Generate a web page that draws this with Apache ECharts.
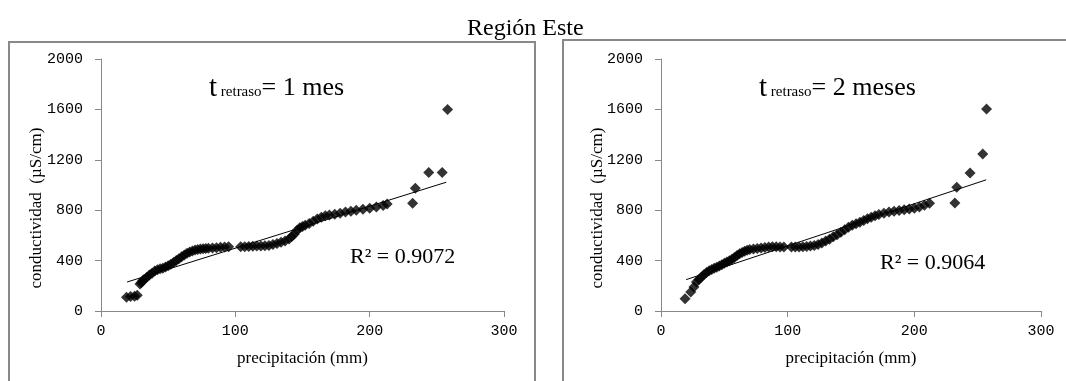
<!DOCTYPE html>
<html><head><meta charset="utf-8">
<script src="https://cdn.jsdelivr.net/npm/echarts@6/dist/echarts.min.js"></script>
<style>html,body{margin:0;padding:0;background:#fff}#c{width:1066px;height:381px}</style>
</head><body><div id="c"></div>
<script>
const chartTitle = 'Región Este';
const xAxisTitle = 'precipitación (mm)';
const yAxisTitle = 'conductividad  (µS/cm)';
const xTicks = {min: 0, max: 300, interval: 100};
const yTicks = {min: 0, max: 2000, interval: 400};

const leftPoints = [
 [19,110],[22,115],[25,118],[27,125],
 [29,215],[30,225],[31,240],[32,250],[34,265],[36,285],[38,300],[40,318],[42,328],[44,335],[46,340],[48,350],
 [50,360],[52,372],[54,385],[56,400],[58,415],[60,430],[62,445],[64,458],[66,468],[68,476],[70,484],[72,489],
 [74,492],[76,495],[78,497],[80,498],[83,500],[86,502],[89,505],[92,507],[95,510],
 [104,510],[107,510],[110,512],[113,513],[116,515],[119,515],[122,518],[125,520],[128,528],[131,535],[134,545],
 [137,555],[140,572],[142,592],[144,612],[146,640],[148,660],[150,670],[152,680],[155,695],[158,712],[161,730],
 [164,745],[167,755],[170,762],[174,768],[178,775],[182,785],[186,792],[190,800],[195,808],[200,815],[205,825],
 [210,838],[213,850],[232,855],[234,975],[244,1100],[254,1100],[258,1600]
];
const rightPoints = [
 [19,98],[23.5,150],[26,190],[28,230],[30,250],[32,270],[34,290],[36,305],[38,320],[40,330],[42,340],[44,348],
 [46,358],[48,368],[50,378],[52,388],[54,398],[56,410],[58,425],[60,440],[62,455],[64,465],[66,475],[68,482],
 [70,488],[73,492],[76,497],[79,500],[82,503],[85,507],[88,510],[91,510],[94,508],[97,507],
 [103,507],[106,507],[109,508],[112,510],[115,512],[118,515],[121,520],[124,528],[127,540],[130,555],[133,570],
 [136,590],[139,605],[142,625],[145,645],[148,665],[151,680],[154,692],[157,705],[160,718],[163,732],[166,745],
 [169,755],[172,765],[176,775],[180,785],[184,792],[188,798],[192,803],[196,810],[200,815],[204,825],[208,840],
 [212,855],[232,858],[233.5,982],[244,1096],[254,1247],[257,1603]
];
const leftTrend = [[19.4,230],[257,1022]];
const rightTrend = [[19.9,249],[256.7,1041]];
const leftLag = '1 mes';
const rightLag = '2 meses';
const leftR2 = 'R² = 0.9072';
const rightR2 = 'R² = 0.9064';

const chart = echarts.init(document.getElementById('c'));
const grids = [
  {left: 101, right: 562, top: 59, bottom: 70},
  {left: 661, right: 25, top: 59, bottom: 70}
];
const monoFont = 'Liberation Mono';
const serif = 'Liberation Serif';
function xAx(i){return {gridIndex:i,type:'value',min:xTicks.min,max:xTicks.max,interval:xTicks.interval,
  name:xAxisTitle,nameLocation:'middle',nameGap:39,
  nameTextStyle:{fontFamily:serif,fontSize:17,color:'#000'},
  axisLine:{lineStyle:{color:'#888',width:1}},axisTick:{length:6,lineStyle:{color:'#888'}},
  axisLabel:{fontFamily:monoFont,fontSize:15,color:'#000',margin:13,formatter:v=>String(v)},splitLine:{show:false}};}
function yAx(i){return {gridIndex:i,type:'value',min:yTicks.min,max:yTicks.max,interval:yTicks.interval,
  axisLine:{show:true,lineStyle:{color:'#888',width:1}},axisTick:{show:true,length:6,lineStyle:{color:'#888'}},
  axisLabel:{fontFamily:monoFont,fontSize:15,color:'#000',margin:18,formatter:v=>String(v)},splitLine:{show:false}};}
function annot(x,lag){
  return {type:'text',left:x,top:74,style:{
    text:'{t|t}{s| retraso}{b|= '+lag+'}',
    rich:{t:{fontFamily:serif,fontSize:29,fill:'#000'},
          s:{fontFamily:serif,fontSize:15,fill:'#000',padding:[7,0,0,0]},
          b:{fontFamily:serif,fontSize:26,fill:'#000'}}}};
}
function ytitle(x){
  return {type:'text',x:x,y:208,rotation:Math.PI/2,style:{text:yAxisTitle,fontFamily:serif,fontSize:17,fill:'#000',
    textAlign:'center',textVerticalAlign:'middle'}};
}
chart.setOption({
  animation:false,
  title:{text:chartTitle,left:462,top:12,textStyle:{fontFamily:serif,fontSize:24,fontWeight:'normal',color:'#000'}},
  grid:grids,
  xAxis:[xAx(0),xAx(1)],
  yAxis:[yAx(0),yAx(1)],
  series:[
    {type:'scatter',xAxisIndex:0,yAxisIndex:0,data:leftPoints,symbol:'diamond',symbolSize:11,itemStyle:{color:'#000'}},
    {type:'line',xAxisIndex:0,yAxisIndex:0,data:leftTrend,symbol:'none',lineStyle:{color:'#000',width:1},z:1},
    {type:'scatter',xAxisIndex:1,yAxisIndex:1,data:rightPoints,symbol:'diamond',symbolSize:11,itemStyle:{color:'#000'}},
    {type:'line',xAxisIndex:1,yAxisIndex:1,data:rightTrend,symbol:'none',lineStyle:{color:'#000',width:1},z:1}
  ],
  graphic:[
    {type:'rect',shape:{x:9,y:42,width:526,height:360},style:{fill:'none',stroke:'#888',lineWidth:2},silent:true},
    {type:'rect',shape:{x:563,y:40,width:520,height:360},style:{fill:'none',stroke:'#888',lineWidth:2},silent:true},
    annot(209,leftLag),
    annot(759,rightLag),
    ytitle(37),
    ytitle(598),
    {type:'text',left:350,top:246,style:{text:leftR2,fontFamily:serif,fontSize:22,fill:'#000'}},
    {type:'text',left:880,top:252,style:{text:rightR2,fontFamily:serif,fontSize:22,fill:'#000'}}
  ]
});
</script></body></html>
